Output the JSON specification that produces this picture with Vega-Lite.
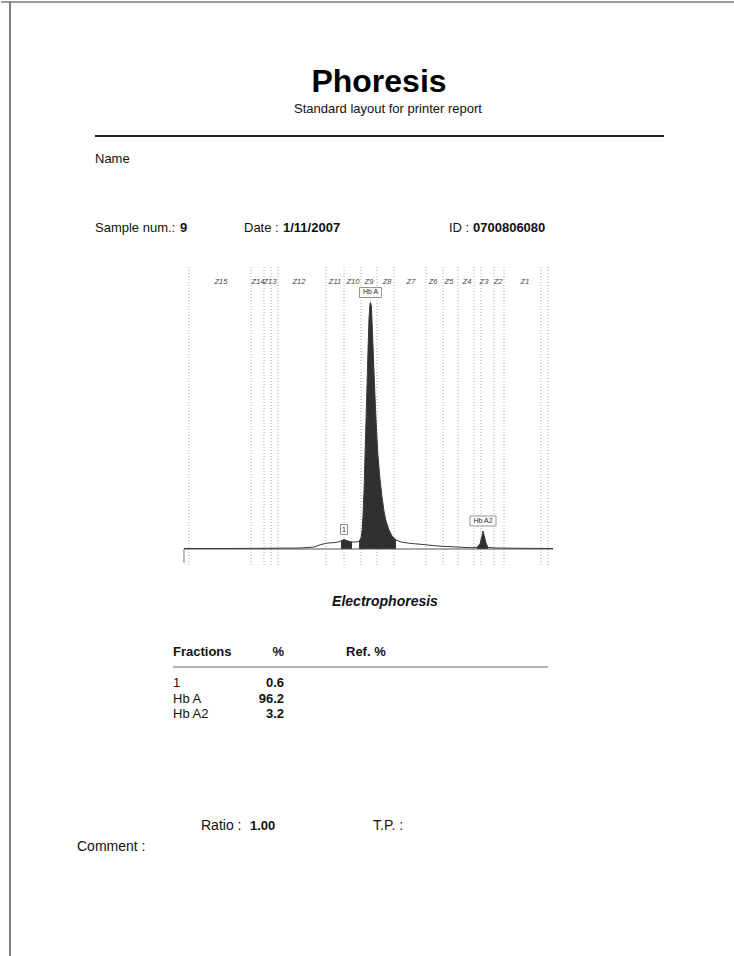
{
  "$schema": "https://vega.github.io/schema/vega-lite/v6.json",
  "background": "white",
  "padding": 0,
  "bounds": "flush",
  "spacing": 0,
  "config": {
    "view": {"stroke": null},
    "axis": {"disable": true},
    "legend": {"disable": true},
    "font": "Liberation Sans",
    "text": {"font": "Liberation Sans", "color": "#111111"}
  },
  "datasets": {
    "header": [
      {"line": 1, "col": 1, "kind": "title", "text": "Phoresis"},
      {"line": 2, "col": 9, "kind": "subtitle", "text": "Standard layout for printer report"},
      {"line": 4, "col": 2, "kind": "label", "text": "Name"},
      {"line": 5, "col": 2, "kind": "label", "text": "Sample num.:"},
      {"line": 5, "col": 3, "kind": "value", "text": "9"},
      {"line": 5, "col": 4, "kind": "label", "text": "Date :"},
      {"line": 5, "col": 5, "kind": "value", "text": "1/11/2007"},
      {"line": 5, "col": 6, "kind": "label", "text": "ID :"},
      {"line": 5, "col": 7, "kind": "value", "text": "0700806080"}
    ],
    "footer": [
      {"line": 1, "col": 9, "kind": "caption", "text": "Electrophoresis"},
      {"line": 2, "col": 2, "kind": "column", "text": "Fractions"},
      {"line": 2, "col": 3, "kind": "numeric column", "text": "%"},
      {"line": 2, "col": 4, "kind": "column", "text": "Ref. %"},
      {"line": 7, "col": 6, "kind": "label", "text": "Ratio :"},
      {"line": 7, "col": 7, "kind": "value", "text": "1.00"},
      {"line": 7, "col": 8, "kind": "label", "text": "T.P. :"},
      {"line": 8, "col": 1, "kind": "label", "text": "Comment :"}
    ],
    "fractions": [
      {"fraction": "1", "percent": 0.6, "apex": 43.84, "height": 3.83},
      {"fraction": "Hb A", "percent": 96.2, "apex": 51.1, "height": 99.4},
      {"fraction": "Hb A2", "percent": 3.2, "apex": 81.92, "height": 7.26}
    ],
    "zones": [
      {"zone": "Z15", "center": 10.14},
      {"zone": "Z14", "center": 20.27},
      {"zone": "Z13", "center": 23.56},
      {"zone": "Z12", "center": 31.51},
      {"zone": "Z11", "center": 41.37},
      {"zone": "Z10", "center": 46.3},
      {"zone": "Z9", "center": 50.68},
      {"zone": "Z8", "center": 55.62},
      {"zone": "Z7", "center": 62.19},
      {"zone": "Z6", "center": 68.22},
      {"zone": "Z5", "center": 72.6},
      {"zone": "Z4", "center": 77.53},
      {"zone": "Z3", "center": 82.19},
      {"zone": "Z2", "center": 86.03},
      {"zone": "Z1", "center": 93.42}
    ],
    "zone_edges": [
      {"edge": 1.37}, {"edge": 18.36}, {"edge": 21.92}, {"edge": 23.84}, {"edge": 25.75},
      {"edge": 38.9}, {"edge": 43.84}, {"edge": 48.49}, {"edge": 52.88}, {"edge": 57.53},
      {"edge": 66.3}, {"edge": 70.96}, {"edge": 75.07}, {"edge": 79.45}, {"edge": 81.37},
      {"edge": 84.93}, {"edge": 87.67}, {"edge": 97.81}, {"edge": 99.73}
    ],
    "trace": [
      {"position": 0, "absorbance": 0.2, "fraction": ""},
      {"position": 10.14, "absorbance": 0.2, "fraction": ""},
      {"position": 21.1, "absorbance": 0.28, "fraction": ""},
      {"position": 32.05, "absorbance": 0.4, "fraction": ""},
      {"position": 35.62, "absorbance": 0.8, "fraction": ""},
      {"position": 37.53, "absorbance": 1.81, "fraction": ""},
      {"position": 39.45, "absorbance": 2.42, "fraction": ""},
      {"position": 41.64, "absorbance": 2.62, "fraction": ""},
      {"position": 43.01, "absorbance": 3.23, "fraction": "1"},
      {"position": 43.84, "absorbance": 3.83, "fraction": "1"},
      {"position": 44.93, "absorbance": 3.23, "fraction": "1"},
      {"position": 46.03, "absorbance": 2.82, "fraction": "1"},
      {"position": 47.12, "absorbance": 2.82, "fraction": ""},
      {"position": 47.95, "absorbance": 3.02, "fraction": "Hb A"},
      {"position": 48.49, "absorbance": 4.44, "fraction": "Hb A"},
      {"position": 48.77, "absorbance": 7.26, "fraction": "Hb A"},
      {"position": 49.04, "absorbance": 13.31, "fraction": "Hb A"},
      {"position": 49.32, "absorbance": 23.39, "fraction": "Hb A"},
      {"position": 49.59, "absorbance": 37.5, "fraction": "Hb A"},
      {"position": 49.86, "absorbance": 51.61, "fraction": "Hb A"},
      {"position": 50.14, "absorbance": 65.73, "fraction": "Hb A"},
      {"position": 50.41, "absorbance": 79.84, "fraction": "Hb A"},
      {"position": 50.68, "absorbance": 92.74, "fraction": "Hb A"},
      {"position": 50.96, "absorbance": 98.79, "fraction": "Hb A"},
      {"position": 51.1, "absorbance": 99.4, "fraction": "Hb A"},
      {"position": 51.37, "absorbance": 97.58, "fraction": "Hb A"},
      {"position": 51.51, "absorbance": 91.94, "fraction": "Hb A"},
      {"position": 51.78, "absorbance": 81.85, "fraction": "Hb A"},
      {"position": 52.05, "absorbance": 71.77, "fraction": "Hb A"},
      {"position": 52.33, "absorbance": 61.69, "fraction": "Hb A"},
      {"position": 52.6, "absorbance": 52.42, "fraction": "Hb A"},
      {"position": 52.88, "absorbance": 44.35, "fraction": "Hb A"},
      {"position": 53.15, "absorbance": 37.5, "fraction": "Hb A"},
      {"position": 53.7, "absorbance": 28.23, "fraction": "Hb A"},
      {"position": 54.25, "absorbance": 20.97, "fraction": "Hb A"},
      {"position": 54.79, "absorbance": 15.32, "fraction": "Hb A"},
      {"position": 55.34, "absorbance": 11.29, "fraction": "Hb A"},
      {"position": 56.16, "absorbance": 7.66, "fraction": "Hb A"},
      {"position": 56.99, "absorbance": 5.24, "fraction": "Hb A"},
      {"position": 58.08, "absorbance": 3.63, "fraction": "Hb A"},
      {"position": 59.45, "absorbance": 2.82, "fraction": ""},
      {"position": 62.19, "absorbance": 2.22, "fraction": ""},
      {"position": 64.93, "absorbance": 1.9, "fraction": ""},
      {"position": 69.59, "absorbance": 1.2, "fraction": ""},
      {"position": 78.63, "absorbance": 0.5, "fraction": ""},
      {"position": 80.27, "absorbance": 0.6, "fraction": "Hb A2"},
      {"position": 81.1, "absorbance": 2.02, "fraction": "Hb A2"},
      {"position": 81.64, "absorbance": 5.24, "fraction": "Hb A2"},
      {"position": 81.92, "absorbance": 7.26, "fraction": "Hb A2"},
      {"position": 82.19, "absorbance": 5.65, "fraction": "Hb A2"},
      {"position": 82.74, "absorbance": 2.42, "fraction": "Hb A2"},
      {"position": 83.29, "absorbance": 0.6, "fraction": "Hb A2"},
      {"position": 85.48, "absorbance": 0.4, "fraction": ""},
      {"position": 92.33, "absorbance": 0.28, "fraction": ""},
      {"position": 101.1, "absorbance": 0.2, "fraction": ""}
    ]
  },
  "vconcat": [
    {
      "width": 734,
      "height": 262,
      "data": {"name": "header"},
      "layer": [
        {
          "mark": {"type": "rule", "stroke": "#9a9a9a", "strokeWidth": 2},
          "encoding": {
            "y": {"datum": 0, "type": "quantitative", "scale": {"domain": [0, 1, 2, 3, 4, 5], "range": [1, 81, 108, 135, 158, 227], "nice": false, "zero": false}}
          }
        },
        {
          "mark": {"type": "rule", "stroke": "#808080", "strokeWidth": 2},
          "encoding": {
            "x": {"datum": 0, "type": "quantitative", "scale": {"domain": [0, 1, 2, 3, 4, 5, 6, 7, 8, 9], "range": [9, 378, 94, 179, 243, 282, 448, 472, 663, 387], "nice": false, "zero": false}}
          }
        },
        {
          "mark": {"type": "rule", "stroke": "#222222", "strokeWidth": 1},
          "encoding": {
            "x": {"datum": 2, "type": "quantitative"},
            "x2": {"datum": 8},
            "y": {"datum": 3, "type": "quantitative"}
          }
        },
        {
          "transform": [{"filter": "datum.kind === 'title'"}],
          "mark": {"type": "text", "fontSize": 32, "fontWeight": "bold", "align": "center", "baseline": "middle", "color": "#000000"},
          "encoding": {
            "x": {"field": "col", "type": "quantitative"},
            "y": {"field": "line", "type": "quantitative"},
            "text": {"field": "text"}
          }
        },
        {
          "transform": [{"filter": "datum.kind === 'subtitle'"}],
          "mark": {"type": "text", "fontSize": 13, "align": "center", "baseline": "middle"},
          "encoding": {
            "x": {"field": "col", "type": "quantitative"},
            "y": {"field": "line", "type": "quantitative"},
            "text": {"field": "text"}
          }
        },
        {
          "transform": [{"filter": "datum.kind === 'label'"}],
          "mark": {"type": "text", "fontSize": 13, "align": "left", "baseline": "middle"},
          "encoding": {
            "x": {"field": "col", "type": "quantitative"},
            "y": {"field": "line", "type": "quantitative"},
            "text": {"field": "text"}
          }
        },
        {
          "transform": [{"filter": "datum.kind === 'value'"}],
          "mark": {"type": "text", "fontSize": 13, "fontWeight": "bold", "align": "left", "baseline": "middle"},
          "encoding": {
            "x": {"field": "col", "type": "quantitative"},
            "y": {"field": "line", "type": "quantitative"},
            "text": {"field": "text"}
          }
        }
      ]
    },
    {
      "width": 734,
      "height": 308,
      "layer": [
        {
          "data": {"values": [{}]},
          "mark": {"type": "rule", "stroke": "#808080", "strokeWidth": 2},
          "encoding": {
            "x": {"datum": -47.671, "type": "quantitative", "scale": {"domain": [-50.137, 150.959], "nice": false, "zero": false}}
          }
        },
        {
          "data": {"name": "zone_edges"},
          "mark": {"type": "rule", "stroke": "#a8a8a8", "strokeWidth": 1, "strokeDash": [1, 2]},
          "encoding": {
            "x": {"field": "edge", "type": "quantitative"},
            "y": {"datum": 113.7, "type": "quantitative", "scale": {"domain": [-8.871, 115.323], "nice": false, "zero": false}},
            "y2": {"datum": -7.26}
          }
        },
        {
          "data": {"name": "zones"},
          "mark": {"type": "text", "fontSize": 7.5, "fontStyle": "italic", "color": "#444444", "align": "center", "baseline": "middle"},
          "encoding": {
            "x": {"field": "center", "type": "quantitative"},
            "y": {"datum": 107.7, "type": "quantitative"},
            "text": {"field": "zone"}
          }
        },
        {
          "data": {"name": "trace"},
          "transform": [{"filter": "datum.fraction !== ''"}],
          "mark": {"type": "area", "color": "#303030", "opacity": 1},
          "encoding": {
            "x": {"field": "position", "type": "quantitative"},
            "y": {"field": "absorbance", "type": "quantitative"},
            "y2": {"datum": 0},
            "detail": {"field": "fraction", "type": "nominal"}
          }
        },
        {
          "data": {"values": [{}]},
          "mark": {"type": "rule", "stroke": "#555555", "strokeWidth": 1},
          "encoding": {
            "x": {"datum": 0, "type": "quantitative"},
            "x2": {"datum": 101.1},
            "y": {"datum": 0, "type": "quantitative"}
          }
        },
        {
          "data": {"values": [{}]},
          "mark": {"type": "rule", "stroke": "#777777", "strokeWidth": 1},
          "encoding": {
            "x": {"datum": 0, "type": "quantitative"},
            "y": {"datum": 0, "type": "quantitative"},
            "y2": {"datum": -5.6}
          }
        },
        {
          "data": {"name": "trace"},
          "mark": {"type": "line", "stroke": "#3a3a3a", "strokeWidth": 1},
          "encoding": {
            "x": {"field": "position", "type": "quantitative"},
            "y": {"field": "absorbance", "type": "quantitative"}
          }
        },
        {
          "data": {"name": "fractions"},
          "mark": {"type": "point", "filled": true, "fill": "white", "stroke": "#777777", "strokeWidth": 0.8, "size": 400, "opacity": 1},
          "encoding": {
            "x": {"field": "apex", "type": "quantitative"},
            "y": {"field": "height", "type": "quantitative"},
            "shape": {
              "field": "fraction",
              "type": "nominal",
              "scale": {
                "domain": ["1", "Hb A", "Hb A2"],
                "range": ["M-0.35,-1.5H0.35V-0.5H-0.35Z", "M-1.1,-1.5H1.1V-0.5H-1.1Z", "M-1.3,-1.5H1.3V-0.5H-1.3Z"]
              },
              "legend": null
            }
          }
        },
        {
          "data": {"name": "fractions"},
          "mark": {"type": "text", "fontSize": 7, "dy": -10, "align": "center", "baseline": "middle", "color": "#222222"},
          "encoding": {
            "x": {"field": "apex", "type": "quantitative"},
            "y": {"field": "height", "type": "quantitative"},
            "text": {"field": "fraction"}
          }
        }
      ]
    },
    {
      "width": 734,
      "height": 386,
      "resolve": {"scale": {"y": "independent"}},
      "layer": [
        {
          "data": {"name": "footer"},
          "layer": [
            {
              "mark": {"type": "rule", "stroke": "#808080", "strokeWidth": 2},
              "encoding": {
                "x": {"datum": 0, "type": "quantitative", "scale": {"domain": [0, 1, 2, 3, 4, 5, 6, 7, 8, 9], "range": [9, 76, 172, 283, 345, 547, 200, 249, 372, 384], "nice": false, "zero": false}}
              }
            },
            {
              "mark": {"type": "rule", "stroke": "#b5b5b5", "strokeWidth": 2},
              "encoding": {
                "x": {"datum": 2, "type": "quantitative"},
                "x2": {"datum": 5},
                "y": {"datum": 3, "type": "quantitative", "scale": {"domain": [1, 2, 3, 4, 5, 6, 7, 8], "range": [31, 81, 96, 112, 127.5, 143, 255, 276], "nice": false, "zero": false}}
              }
            },
            {
              "transform": [{"filter": "datum.kind === 'caption'"}],
              "mark": {"type": "text", "fontSize": 14, "fontWeight": "bold", "fontStyle": "italic", "align": "center", "baseline": "middle"},
              "encoding": {
                "x": {"field": "col", "type": "quantitative"},
                "y": {"field": "line", "type": "quantitative"},
                "text": {"field": "text"}
              }
            },
            {
              "transform": [{"filter": "datum.kind === 'column'"}],
              "mark": {"type": "text", "fontSize": 13, "fontWeight": "bold", "align": "left", "baseline": "middle"},
              "encoding": {
                "x": {"field": "col", "type": "quantitative"},
                "y": {"field": "line", "type": "quantitative"},
                "text": {"field": "text"}
              }
            },
            {
              "transform": [{"filter": "datum.kind === 'numeric column'"}],
              "mark": {"type": "text", "fontSize": 13, "fontWeight": "bold", "align": "right", "baseline": "middle"},
              "encoding": {
                "x": {"field": "col", "type": "quantitative"},
                "y": {"field": "line", "type": "quantitative"},
                "text": {"field": "text"}
              }
            },
            {
              "transform": [{"filter": "datum.kind === 'label'"}],
              "mark": {"type": "text", "fontSize": 14, "align": "left", "baseline": "middle"},
              "encoding": {
                "x": {"field": "col", "type": "quantitative"},
                "y": {"field": "line", "type": "quantitative"},
                "text": {"field": "text"}
              }
            },
            {
              "transform": [{"filter": "datum.kind === 'value'"}],
              "mark": {"type": "text", "fontSize": 13, "fontWeight": "bold", "align": "left", "baseline": "middle"},
              "encoding": {
                "x": {"field": "col", "type": "quantitative"},
                "y": {"field": "line", "type": "quantitative"},
                "text": {"field": "text"}
              }
            }
          ]
        },
        {
          "data": {"name": "fractions"},
          "encoding": {
            "y": {"field": "fraction", "type": "nominal", "scale": {"type": "point", "domain": ["1", "Hb A", "Hb A2"], "range": [112, 143], "padding": 0}}
          },
          "layer": [
            {
              "mark": {"type": "text", "fontSize": 13, "align": "left", "baseline": "middle"},
              "encoding": {
                "x": {"datum": 2, "type": "quantitative"},
                "text": {"field": "fraction"}
              }
            },
            {
              "mark": {"type": "text", "fontSize": 13, "fontWeight": "bold", "align": "right", "baseline": "middle"},
              "encoding": {
                "x": {"datum": 3, "type": "quantitative"},
                "text": {"field": "percent", "format": ".1f"}
              }
            }
          ]
        }
      ]
    }
  ]
}
